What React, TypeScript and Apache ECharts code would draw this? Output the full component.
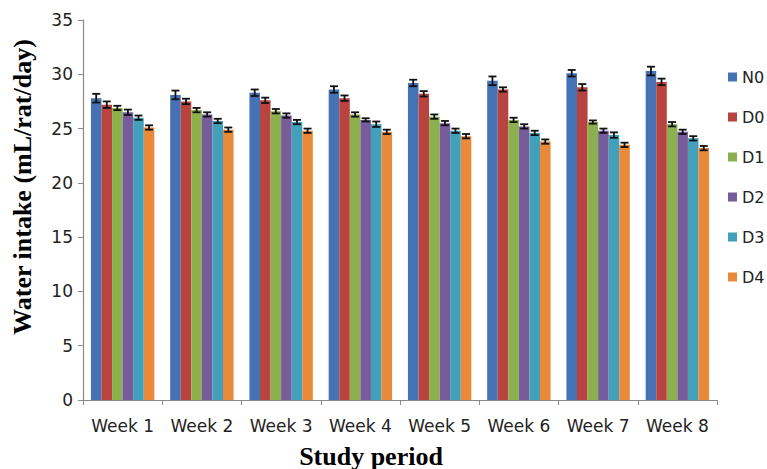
import React, { useEffect, useRef } from "react";
import * as echarts from "echarts";

const categories = ["Week 1", "Week 2", "Week 3", "Week 4", "Week 5", "Week 6", "Week 7", "Week 8"];
const seriesNames = ["N0", "D0", "D1", "D2", "D3", "D4"];
const colors = ["#4472b4", "#b9433f", "#8db04e", "#775c9c", "#42a0bb", "#e98a3b"];

const N0 = [27.8, 28.1, 28.3, 28.6, 29.2, 29.4, 30.1, 30.3];
const D0 = [27.2, 27.5, 27.6, 27.8, 28.2, 28.6, 28.8, 29.3];
const D1 = [26.9, 26.7, 26.6, 26.3, 26.1, 25.8, 25.6, 25.4];
const D2 = [26.5, 26.3, 26.2, 25.8, 25.5, 25.2, 24.8, 24.7];
const D3 = [26.0, 25.7, 25.6, 25.4, 24.8, 24.6, 24.4, 24.1];
const D4 = [25.1, 24.9, 24.8, 24.7, 24.3, 23.8, 23.5, 23.2];

const N0err = [0.4, 0.4, 0.3, 0.3, 0.3, 0.4, 0.3, 0.4];
const D0err = [0.3, 0.25, 0.25, 0.25, 0.25, 0.2, 0.3, 0.3];
const D1err = [0.2, 0.2, 0.2, 0.2, 0.2, 0.2, 0.15, 0.2];
const D2err = [0.25, 0.2, 0.2, 0.15, 0.2, 0.2, 0.2, 0.2];
const D3err = [0.2, 0.2, 0.2, 0.25, 0.2, 0.2, 0.25, 0.2];
const D4err = [0.2, 0.2, 0.2, 0.2, 0.2, 0.2, 0.2, 0.2];

const yTicks = [0, 5, 10, 15, 20, 25, 30, 35];

const allValues = [N0, D0, D1, D2, D3, D4];
const allErrors = [N0err, D0err, D1err, D2err, D3err, D4err];

const labelFont = "DejaVu Sans";
const titleFont = "'Liberation Serif', 'Times New Roman', serif";

export default function App() {
  const ref = useRef<HTMLDivElement>(null);

  useEffect(() => {
    if (!ref.current) return;
    const chart = echarts.init(ref.current, undefined, { renderer: "svg" });
    const nSeries = seriesNames.length;
    const catGap = 0.2;

    const barSeries = seriesNames.map((name, i) => ({
      name,
      type: "bar",
      data: allValues[i],
      barGap: "0%",
      barCategoryGap: "20%",
      itemStyle: { color: colors[i] },
    }));

    const errSeries = seriesNames.map((name, i) => ({
      name: name + "_err",
      type: "custom",
      z: 5,
      data: allValues[i].map((v, k) => [k, v - allErrors[i][k], v + allErrors[i][k]]),
      renderItem: (params: any, api: any) => {
        const idx = api.value(0);
        const lo = api.coord([idx, api.value(1)]);
        const hi = api.coord([idx, api.value(2)]);
        const catW = api.size([1, 0])[0];
        const groupW = catW * (1 - catGap);
        const barW = groupW / nSeries;
        const x = lo[0] - groupW / 2 + barW * (i + 0.5);
        const cap = 4;
        const style = { stroke: "#111", lineWidth: 1.8 };
        return {
          type: "group",
          children: [
            { type: "line", shape: { x1: x, y1: lo[1], x2: x, y2: hi[1] }, style },
            { type: "line", shape: { x1: x - cap, y1: lo[1], x2: x + cap, y2: lo[1] }, style },
            { type: "line", shape: { x1: x - cap, y1: hi[1], x2: x + cap, y2: hi[1] }, style },
          ],
        };
      },
    }));

    chart.setOption({
      animation: false,
      backgroundColor: "#ffffff",
      grid: { left: 83, right: 50, top: 20, bottom: 69, containLabel: false },
      legend: {
        data: seriesNames,
        orient: "vertical",
        left: 723,
        top: 64,
        itemWidth: 9,
        itemHeight: 9,
        itemGap: 24,
        icon: "rect",
        textStyle: { fontFamily: labelFont, fontSize: 16, color: "#222", lineHeight: 16 },
      },
      xAxis: {
        type: "category",
        data: categories,
        axisLine: { lineStyle: { color: "#8a8a8a", width: 1.2 } },
        axisTick: { show: true, length: 5, lineStyle: { color: "#8a8a8a" } },
        axisLabel: { fontFamily: labelFont, fontSize: 17, color: "#222", margin: 17, interval: 0 },
      },
      yAxis: {
        type: "value",
        min: yTicks[0],
        max: yTicks[yTicks.length - 1],
        interval: 5,
        axisLine: { show: true, lineStyle: { color: "#8a8a8a", width: 1.2 } },
        axisTick: { show: true, length: 5, lineStyle: { color: "#8a8a8a" } },
        splitLine: { show: false },
        axisLabel: { fontFamily: labelFont, fontSize: 17, color: "#222", margin: 10 },
      },
      graphic: [
        {
          type: "text",
          x: 22,
          y: 187,
          rotation: Math.PI / 2,
          style: {
            text: "Water intake (mL/rat/day)",
            fontFamily: titleFont,
            fontWeight: "bold",
            fontSize: 26,
            fill: "#000",
            align: "center",
            verticalAlign: "middle",
          },
        },
        {
          type: "text",
          x: 371,
          y: 456,
          style: {
            text: "Study period",
            fontFamily: titleFont,
            fontWeight: "bold",
            fontSize: 26,
            fill: "#000",
            align: "center",
            verticalAlign: "middle",
          },
        },
      ],
      series: [...barSeries, ...errSeries],
    });

    return () => chart.dispose();
  }, []);

  return (
    <div
      ref={ref}
      style={{ position: "absolute", left: 0, top: 0, width: 767, height: 469 }}
    />
  );
}
